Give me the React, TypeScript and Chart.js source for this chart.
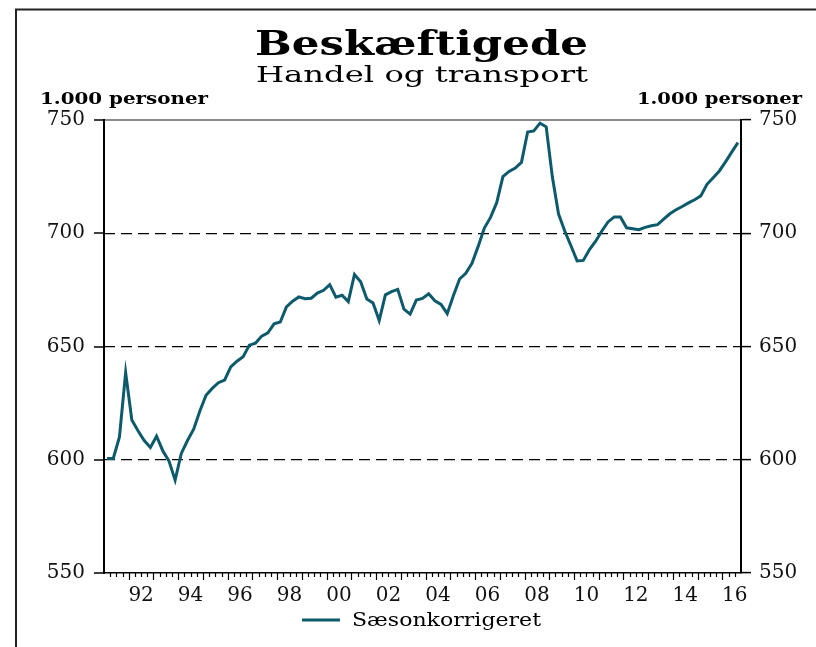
import React, { useEffect, useRef } from "react";
import { Chart, registerables } from "chart.js";

Chart.register(...registerables);

// ---- data ----
const startYear = 1991; // first quarter: 1991 Q1
const endYear = 2016.75;
const values = [
  600.6, 600.6, 610.1, 638.5, 617.5, 612.8, 608.5, 605.4, 610.4, 604.0,
  599.5, 591.0, 602.8, 608.5, 613.5, 621.5, 628.5, 631.5, 634.0, 635.2,
  641.0, 643.5, 645.5, 650.6, 651.5, 654.6, 656.0, 660.0, 660.8, 667.5,
  670.0, 671.9, 671.1, 671.3, 673.6, 674.8, 677.3, 671.8, 672.6, 669.8,
  681.8, 678.6, 671.0, 669.2, 661.5, 672.8, 674.2, 675.2, 666.5, 664.3,
  670.5, 671.2, 673.3, 670.2, 668.6, 664.5, 672.5, 679.8, 682.3, 686.7,
  694.2, 702.3, 707.0, 713.5, 725.0, 727.3, 728.8, 731.3, 744.7, 745.2,
  748.6, 747.0, 724.8, 708.5, 701.0, 694.5, 687.8, 688.0, 692.8, 696.5,
  701.0, 705.0, 707.2, 707.2, 702.4, 702.0, 701.6, 702.6, 703.3, 703.8,
  706.2, 708.6, 710.4, 711.8, 713.4, 714.8, 716.5, 721.6, 724.5, 727.5,
  731.5, 735.8, 740.0,
];
const yTicks = [550, 600, 650, 700, 750];
const xLabelYears = [1992, 1994, 1996, 1998, 2000, 2002, 2004, 2006, 2008, 2010, 2012, 2014, 2016];
const xLabels = ["92", "94", "96", "98", "00", "02", "04", "06", "08", "10", "12", "14", "16"];
const seriesName = "Sæsonkorrigeret";
const titleText = "Beskæftigede";
const subtitleText = "Handel og transport";
const unitText = "1.000 personer";

const LINE_COLOR = "#0e5a6d";
const SERIF = "'DejaVu Serif', serif";

function drawStretched(ctx: CanvasRenderingContext2D, text: string, font: string, left: number, right: number, baseline: number, color = "#000") {
  ctx.save();
  ctx.font = font;
  ctx.fillStyle = color;
  ctx.textBaseline = "alphabetic";
  ctx.textAlign = "left";
  const w = ctx.measureText(text).width;
  const sx = (right - left) / w;
  ctx.translate(left, baseline);
  ctx.scale(sx, 1);
  ctx.fillText(text, 0, 0);
  ctx.restore();
}

const decorPlugin = {
  id: "decor",
  afterDraw(chart: any) {
    const ctx: CanvasRenderingContext2D = chart.ctx;
    // frame
    ctx.save();
    ctx.strokeStyle = "#222";
    ctx.lineWidth = 2;
    ctx.beginPath();
    ctx.moveTo(16, 647);
    ctx.lineTo(16, 9.5);
    ctx.lineTo(816, 9.5);
    ctx.stroke();
    ctx.restore();

    drawStretched(ctx, titleText, `bold 34px ${SERIF}`, 255, 588, 55);
    drawStretched(ctx, subtitleText, `23px ${SERIF}`, 256, 588, 82);
    drawStretched(ctx, unitText, `bold 16px ${SERIF}`, 40, 208, 104);
    drawStretched(ctx, unitText, `bold 16px ${SERIF}`, 637, 802, 104);

    // x-axis minor/major ticks
    const xs = chart.scales.x;
    const bottom = chart.chartArea.bottom;
    ctx.save();
    ctx.strokeStyle = "#000";
    ctx.lineWidth = 1.2;
    ctx.beginPath();
    for (let q = startYear * 4 + 1; q < endYear * 4; q++) {
      const t = q / 4;
      const px = Math.round(xs.getPixelForValue(t)) + 0.5;
      const len = q % 4 === 0 ? 7 : 4;
      ctx.moveTo(px, bottom);
      ctx.lineTo(px, bottom + len);
    }
    ctx.stroke();
    ctx.restore();

    // legend
    const ds = chart.data.datasets[0];
    ctx.save();
    ctx.strokeStyle = ds.borderColor;
    ctx.lineWidth = 3;
    ctx.beginPath();
    ctx.moveTo(302, 620);
    ctx.lineTo(340, 620);
    ctx.stroke();
    ctx.restore();
    drawStretched(ctx, ds.label, `18px ${SERIF}`, 352, 541, 626);
  },
};

export default function App() {
  const ref = useRef<HTMLCanvasElement | null>(null);
  useEffect(() => {
    if (!ref.current) return;
    const points = values.map((v, i) => ({ x: startYear + 0.125 + 0.25 * i, y: v }));
    const tickFont = { family: SERIF, size: 20 };
    const chart = new Chart(ref.current, {
      type: "line",
      data: {
        datasets: [
          {
            label: seriesName,
            data: points,
            borderColor: LINE_COLOR,
            backgroundColor: LINE_COLOR,
            borderWidth: 3,
            pointRadius: 0,
            tension: 0,
            yAxisID: "y",
          },
        ],
      },
      options: {
        responsive: false,
        animation: false,
        events: [],
        layout: { padding: { top: 120, left: 0, right: 0, bottom: 0 } },
        plugins: { legend: { display: false }, title: { display: false }, tooltip: { enabled: false } },
        scales: {
          x: {
            type: "linear",
            min: startYear,
            max: endYear,
            afterBuildTicks: (s: any) => {
              s.ticks = xLabelYears.map((y) => ({ value: y + 0.5 }));
            },
            afterFit: (s: any) => {
              s.height = 74;
            },
            ticks: {
              autoSkip: false,
              maxRotation: 0,
              padding: 3,
              color: "#111",
              font: tickFont,
              callback: (v: any) => {
                const idx = xLabelYears.indexOf(Math.round(Number(v) - 0.5));
                return idx >= 0 ? xLabels[idx] : "";
              },
            },
            grid: { display: false },
            border: { display: true, color: "#000", width: 1.5 },
          },
          y: {
            type: "linear",
            position: "left",
            min: 550,
            max: 750,
            afterBuildTicks: (s: any) => {
              s.ticks = yTicks.map((v) => ({ value: v }));
            },
            afterFit: (s: any) => {
              s.width = 104;
            },
            ticks: { padding: 9, color: "#111", font: tickFont },
            grid: {
              color: (c: any) => (c.tick && c.tick.value === 750 ? "#8c8c8c" : "rgba(0,0,0,0)"),
              lineWidth: 2,
              drawTicks: true,
              tickLength: 10,
              tickColor: "#000",
              tickWidth: 1.5,
            },
            border: { display: true, color: "#000", width: 2 },
          },
          y2: {
            type: "linear",
            position: "right",
            min: 550,
            max: 750,
            afterBuildTicks: (s: any) => {
              s.ticks = yTicks.map((v) => ({ value: v }));
            },
            afterFit: (s: any) => {
              s.width = 75;
            },
            ticks: { padding: 8, color: "#111", font: tickFont },
            grid: {
              color: (c: any) =>
                c.tick && c.tick.value > 550 && c.tick.value < 750 ? "#000" : "rgba(0,0,0,0)",
              lineWidth: 1.2,
              drawTicks: true,
              tickLength: 10,
              tickColor: "#000",
              tickWidth: 1.5,
              tickBorderDash: [],
            },
            border: { display: true, color: "#000", width: 2, dash: [11, 6] },
          },
        },
      },
      plugins: [decorPlugin],
    } as any);
    return () => chart.destroy();
  }, []);

  return (
    <div style={{ position: "absolute", left: 0, top: 0, width: 816, height: 647, background: "#fff" }}>
      <canvas ref={ref} width={816} height={647} style={{ display: "block" }} />
    </div>
  );
}
